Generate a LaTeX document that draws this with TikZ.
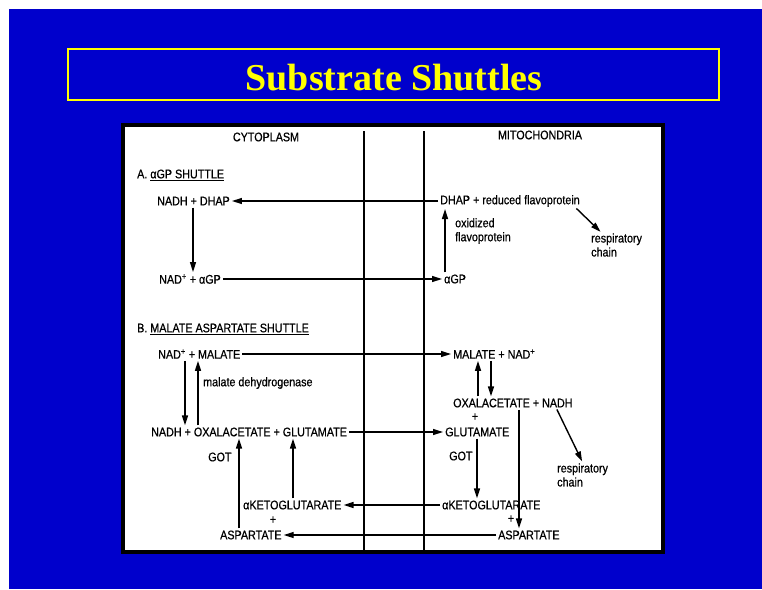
\documentclass[tikz,border=0pt]{standalone}
\usepackage{fontspec}
\usepackage{xcolor}
\usepackage{tikz}
\usetikzlibrary{arrows.meta,positioning}
\setmainfont{Liberation Sans}
\newfontfamily\chemfont[FakeStretch=0.86,FakeBold=0.6]{Liberation Sans}
\newfontfamily\titlefont{Liberation Serif}
\definecolor{slideblue}{RGB}{0,0,204}
\definecolor{titleyellow}{RGB}{255,255,0}

\tikzset{
  chem/.style={inner sep=0pt, anchor=west, font=\chemfont\fontsize{12.5}{14}\selectfont},
  rxn/.style={-{Triangle[length=10pt,width=6pt]}, line width=1.4pt, shorten <=2pt, shorten >=2pt},
  wall/.style={line width=1.8pt}
}

\begin{document}
\begin{tikzpicture}[x=1pt,y=-1pt]
\useasboundingbox (0,0) rectangle (762,589);
\fill[white] (0,0) rectangle (762,589);
\fill[slideblue] (9,9) rectangle (762,589);
% title
\draw[titleyellow, line width=2pt] (68,49) rectangle (719,100);
\node[font=\titlefont\bfseries\fontsize{38}{40}\selectfont, text=titleyellow] (title) at (394,78) {Substrate Shuttles};
% panel and membranes
\draw[fill=white, line width=4.5pt] (123,125) rectangle (663,552);
\draw[wall] (364,131) -- (364,550);
\draw[wall] (424,131) -- (424,550);

\node[chem, anchor=center] (cyto) at (266,137) {CYTOPLASM};
\node[chem, anchor=center] (mito) at (540,135) {MITOCHONDRIA};

% A. alpha-GP shuttle
\node[chem] (ashuttle) at (137,175) {A. \underline{αGP SHUTTLE}};
\node[chem] (nadhdhap) at (157,201) {NADH + DHAP};
\node[chem] (dhapm) at (440,201) {DHAP + reduced flavoprotein};
\node[chem] (nadga) at (159,279) {NAD\textsuperscript{+} + αGP};
\node[chem] (agpm) at (444,279) {αGP};
\node[chem, align=left] (oxflav) at (455,231) {oxidized\\flavoprotein};
\node[chem, align=left] (resp1) at (591,245) {respiratory\\chain};

\draw[rxn] (dhapm.west) -- (nadhdhap.east);
\draw[rxn] ([xshift=36pt]nadhdhap.south west) -- ([xshift=36pt]nadhdhap.south west |- nadga.north);
\draw[rxn] (nadga.east) -- (agpm.west);
\draw[rxn] ([xshift=1pt]agpm.north west) -- ([xshift=1pt]agpm.north west |- dhapm.south);
\draw[rxn] ([xshift=-5pt]dhapm.south east) -- ([xshift=11pt]resp1.north west);

% B. malate aspartate shuttle
\node[chem] (bshuttle) at (137,329) {B. \underline{MALATE ASPARTATE SHUTTLE}};
\node[chem] (nadmal) at (158,354) {NAD\textsuperscript{+} + MALATE};
\node[chem] (malnad) at (453,354) {MALATE + NAD\textsuperscript{+}};
\node[chem] (mdh) at (203,383) {malate dehydrogenase};
\node[chem] (nadhox) at (151,432) {NADH + OXALACETATE + GLUTAMATE};
\node[chem] (oxm) at (453,403) {OXALACETATE + NADH};
\node[chem, anchor=center] (plusm1) at (475,417) {+};
\node[chem] (glum) at (445,432) {GLUTAMATE};
\node[chem] (gotc) at (208,457) {GOT};
\node[chem] (gotm) at (449,456) {GOT};
\node[chem, align=left] (resp2) at (557,475) {respiratory\\chain};
\node[chem] (akg) at (243,505) {αKETOGLUTARATE};
\node[chem, anchor=center] (plusc) at (273,520) {+};
\node[chem] (asp) at (220,535) {ASPARTATE};
\node[chem] (akgm) at (442,505) {αKETOGLUTARATE};
\node[chem, anchor=center] (plusm2) at (511,519) {+};
\node[chem] (aspm) at (498,535) {ASPARTATE};

\draw[rxn] (nadmal.east) -- (malnad.west);
\draw[rxn] ([xshift=27pt]nadmal.south west) -- ([xshift=27pt]nadmal.south west |- nadhox.north);
\draw[rxn] ([xshift=47pt]nadhox.north west) -- ([xshift=47pt]nadhox.north west |- nadmal.south);
\draw[rxn] (nadhox.east) -- (glum.west);
\draw[rxn] ([xshift=19pt]asp.north west) -- ([xshift=19pt]asp.north west |- nadhox.south);
\draw[rxn] ([xshift=50pt]akg.north west) -- ([xshift=50pt]akg.north west |- nadhox.south);
\draw[rxn] (akgm.west) -- (akg.east);
\draw[rxn] (aspm.west) -- (asp.east);
\draw[rxn] ([xshift=25pt]oxm.north west) -- ([xshift=25pt]oxm.north west |- malnad.south);
\draw[rxn] ([xshift=38pt]malnad.south west) -- ([xshift=38pt]malnad.south west |- oxm.north);
\draw[rxn] ([xshift=32pt]glum.south west) -- ([xshift=32pt]glum.south west |- akgm.north);
\draw[rxn] ([xshift=66pt]oxm.south west) -- ([xshift=66pt]oxm.south west |- aspm.north);
\draw[rxn] ([xshift=103pt]oxm.south west) -- ([xshift=26pt]resp2.north west);
\end{tikzpicture}
\end{document}
